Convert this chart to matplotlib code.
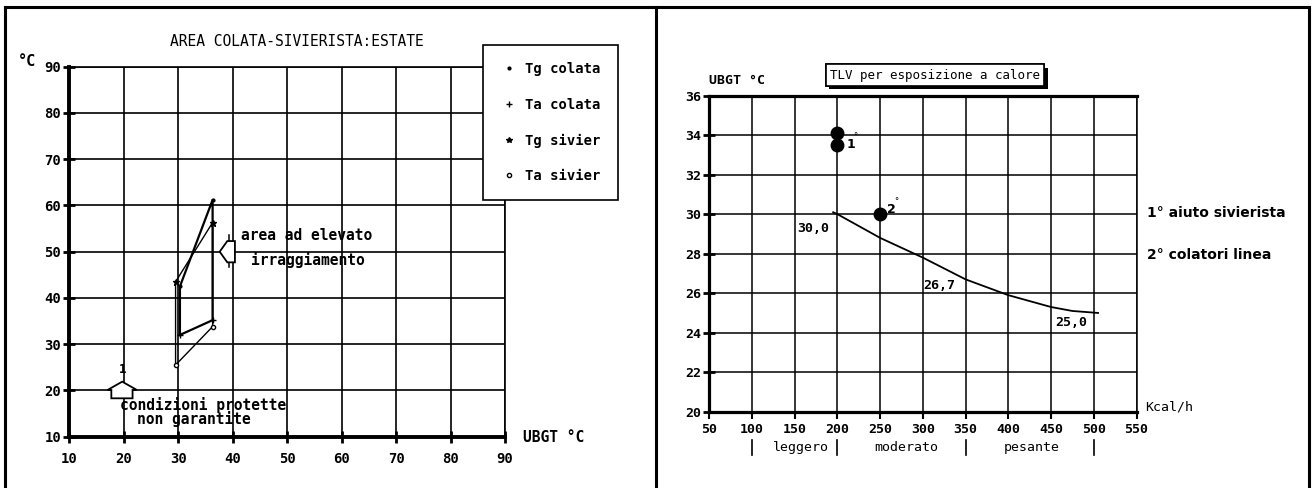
import matplotlib
matplotlib.use("Agg")
import matplotlib.pyplot as plt
from matplotlib.lines import Line2D
from matplotlib.patches import Polygon
import matplotlib.patheffects as pe

# ---------------- data: left panel ----------------
left_title = "AREA COLATA-SIVIERISTA:ESTATE"
left_xticks = [10, 20, 30, 40, 50, 60, 70, 80, 90]
left_yticks = [10, 20, 30, 40, 50, 60, 70, 80, 90]
legend_labels = ["Tg colata", "Ta colata", "Tg sivier", "Ta sivier"]

ubgt_colata = [30.3, 36.3]
tg_colata = [42.5, 61.2]
ta_colata = [32.0, 35.2]
ubgt_sivier = [29.5, 36.3]
tg_sivier = [43.5, 56.3]
ta_sivier = [25.5, 33.8]

# ---------------- data: right panel ----------------
right_title = "TLV per esposizione a calore"
right_xticks = [50, 100, 150, 200, 250, 300, 350, 400, 450, 500, 550]
right_yticks = [20, 22, 24, 26, 28, 30, 32, 34, 36]
tlv_kcal = [195, 200, 250, 300, 350, 400, 450, 475, 505]
tlv_wbgt = [30.1, 30.0, 28.8, 27.8, 26.7, 25.9, 25.3, 25.1, 25.0]
tlv_labels = ["30,0", "26,7", "25,0"]
tlv_label_pos = [(172, 29.3), (319, 26.4), (474, 24.5)]
siv_kcal = [200, 200]
siv_wbgt = [34.1, 33.5]
col_kcal = [250]
col_wbgt = [30.0]
work_classes = ["leggero", "moderato", "pesante"]
work_class_centers = [157, 281, 427]
work_class_bounds = [100, 200, 350, 500]

MONO = "DejaVu Sans Mono"
W, H = 1312, 488
fig = plt.figure(figsize=(W / 100, H / 100), dpi=100)
fig.patch.set_facecolor("white")


def fx(px):
    return px / W


def fy(py):
    return 1 - py / H


# outer table frame
for (x0, y0, x1, y1) in [(5, 7, 1309, 7), (5, 7, 5, 488), (656, 7, 656, 488), (1309, 7, 1309, 488)]:
    fig.add_artist(Line2D([fx(x0), fx(x1)], [fy(y0), fy(y1)], color="black", lw=2.2,
                          transform=fig.transFigure))

# ================= LEFT PANEL =================
axL = fig.add_axes([fx(69.4), fy(436.7), fx(505 - 69.4), (436.7 - 66.7) / H])
axL.set_xlim(10, 90)
axL.set_ylim(10, 90)
axL.set_xticks(left_xticks)
axL.set_yticks(left_yticks)
axL.set_xticklabels([str(v) for v in left_xticks], fontfamily=MONO,
                    fontweight="bold", fontsize=10)
axL.set_yticklabels([str(v) for v in left_yticks], fontfamily=MONO, fontweight="bold",
                    fontsize=10)
axL.grid(True, color="black", lw=1.2)
axL.set_axisbelow(True)
for s in ["left", "bottom"]:
    axL.spines[s].set_linewidth(2.8)
for s in ["top", "right"]:
    axL.spines[s].set_linewidth(1.2)
axL.tick_params(axis="y", direction="inout", length=8, width=2, pad=2)
axL.tick_params(axis="x", direction="inout", length=8, width=2, pad=7)

for ux, tg, ta, mk in [(ubgt_colata, tg_colata, ta_colata, 1.6),
                       (ubgt_sivier, tg_sivier, ta_sivier, 1.0)]:
    xs = [ux[0], ux[0], ux[1], ux[1], ux[0]]
    ys = [ta[0], tg[0], tg[1], ta[1], ta[0]]
    axL.plot(xs, ys, color="black", lw=mk, zorder=3)
axL.plot(ubgt_colata, tg_colata, ls="none", marker=".", color="black", ms=4, zorder=4)
axL.plot(ubgt_colata, ta_colata, ls="none", marker="+", color="black", ms=5, zorder=4)
axL.plot(ubgt_sivier, tg_sivier, ls="none", marker="*", color="black", ms=5, zorder=4)
axL.plot(ubgt_sivier, ta_sivier, ls="none", marker="o", mfc="white", color="black", ms=3, zorder=4)

# arrow "area ad elevato irraggiamento"
axL.add_patch(Polygon([(37.6, 50), (39.0, 52.3), (40.4, 52.3), (40.4, 47.7), (39.0, 47.7)],
                      closed=True, fill=True, fc="white", ec="black", lw=1.3, zorder=5))
axL.plot([39.3, 39.3], [52.3, 53.6], color="black", lw=1.1)
axL.plot([39.3, 39.3], [47.7, 46.6], color="black", lw=1.1)
axL.text(41.5, 53.6, "area ad elevato", fontfamily=MONO, fontweight="bold", fontsize=10.5,
         va="center", ha="left", zorder=6)
axL.text(43.3, 48.2, "irraggiamento", fontfamily=MONO, fontweight="bold", fontsize=10.5,
         va="center", ha="left", zorder=6)

# arrow "condizioni protette non garantite"
axL.add_patch(Polygon([(19.7, 21.9), (22.4, 20.1), (21.6, 20.1), (21.6, 18.3), (17.7, 18.3),
                       (17.7, 20.1), (17.0, 20.1)],
                      closed=True, fc="white", ec="black", lw=1.3, zorder=5))
axL.text(19.7, 24.6, "1", fontfamily=MONO, fontweight="bold", fontsize=9, ha="center",
         va="center")
axL.text(19.3, 16.9, "condizioni protette", fontfamily=MONO, fontweight="bold", fontsize=10.5,
         va="center", ha="left", zorder=6)
axL.text(22.4, 13.8, "non garantite", fontfamily=MONO, fontweight="bold", fontsize=10.5,
         va="center", ha="left", zorder=6)

fig.text(fx(297), fy(42), left_title, fontfamily=MONO, fontsize=10.5, ha="center", va="center")
fig.text(fx(18), fy(62), "°C", fontfamily=MONO, fontweight="bold", fontsize=11, ha="left",
         va="center")
fig.text(fx(523), fy(438), "UBGT °C", fontfamily=MONO, fontweight="bold", fontsize=10.5,
         ha="left", va="center")

handles = [
    Line2D([], [], ls="none", marker=".", color="black", ms=4),
    Line2D([], [], ls="none", marker="+", color="black", ms=4),
    Line2D([], [], ls="none", marker="*", color="black", ms=4),
    Line2D([], [], ls="none", marker="o", mfc="white", color="black", ms=3),
]
leg = axL.legend(handles, legend_labels, loc="upper left",
                 bbox_to_anchor=(fx(483), fy(45)), bbox_transform=fig.transFigure,
                 borderaxespad=0, frameon=True, fancybox=False, framealpha=1,
                 edgecolor="black", prop={"family": MONO, "weight": "bold", "size": 10},
                 labelspacing=1.55, borderpad=1.25, handlelength=1.2, handletextpad=0.6)
leg.get_frame().set_linewidth(1.2)
leg.set_zorder(10)

# ================= RIGHT PANEL =================
axR = fig.add_axes([fx(709.3), fy(411.7), fx(1136.5 - 709.3), 316 / H])
axR.set_xlim(50, 550)
axR.set_ylim(20, 36)
axR.set_xticks(right_xticks)
axR.set_yticks(right_yticks)
axR.set_xticklabels([str(v) for v in right_xticks], fontfamily=MONO, fontweight="bold",
                    fontsize=9.5)
axR.set_yticklabels([str(v) for v in right_yticks], fontfamily=MONO, fontweight="bold",
                    fontsize=9.5)
axR.grid(True, color="black", lw=1.1)
axR.set_axisbelow(True)
for s in ["left", "bottom", "top"]:
    axR.spines[s].set_linewidth(2.3)
axR.spines["right"].set_linewidth(1.1)
axR.tick_params(axis="y", direction="inout", length=8, width=2, pad=2)
axR.tick_params(axis="x", direction="out", length=5, width=1.5, pad=3)

axR.plot(tlv_kcal, tlv_wbgt, color="black", lw=1.3, zorder=3)
for lab, (lx, ly) in zip(tlv_labels, tlv_label_pos):
    axR.text(lx, ly, lab, fontfamily=MONO, fontweight="bold", fontsize=9.5, ha="center",
             va="center", zorder=4)
axR.plot(siv_kcal, siv_wbgt, ls="none", marker="o", color="black", ms=9, zorder=5)
axR.plot(col_kcal, col_wbgt, ls="none", marker="o", color="black", ms=9, zorder=5)
axR.text(211, 33.55, "1", fontfamily="DejaVu Sans", fontweight="bold", fontsize=9,
         ha="left", va="center")
axR.text(219, 33.95, "°", fontfamily="DejaVu Sans", fontsize=6, ha="left", va="center")
axR.text(258, 30.25, "2", fontfamily="DejaVu Sans", fontweight="bold", fontsize=9,
         ha="left", va="center")
axR.text(266, 30.65, "°", fontfamily="DejaVu Sans", fontsize=6, ha="left", va="center")

tb = fig.text(fx(935), fy(75), right_title, fontfamily=MONO, fontsize=9, ha="center",
              va="center",
              bbox=dict(boxstyle="square,pad=0.35", fc="white", ec="black", lw=1.2))
tb.get_bbox_patch().set_path_effects([pe.withSimplePatchShadow(offset=(2.5, -2.5),
                                                               shadow_rgbFace="black",
                                                               alpha=1), pe.Normal()])
fig.text(fx(709), fy(80), "UBGT °C", fontfamily=MONO, fontweight="bold", fontsize=9.5,
         ha="left", va="center")
fig.text(fx(1145), fy(407), "Kcal/h", fontfamily=MONO, fontsize=9.5, ha="left", va="center")
fig.text(fx(1147), fy(213), "1° aiuto sivierista", fontfamily="DejaVu Sans",
         fontweight="bold", fontsize=10, ha="left", va="center")
fig.text(fx(1147), fy(255), "2° colatori linea", fontfamily="DejaVu Sans",
         fontweight="bold", fontsize=10, ha="left", va="center")

trans = axR.get_xaxis_transform()
for b in work_class_bounds:
    axR.plot([b, b], [-0.089, -0.137], color="black", lw=1.2, transform=trans, clip_on=False)
for lab, cx in zip(work_classes, work_class_centers):
    axR.text(cx, -0.112, lab, fontfamily=MONO, fontsize=9.5, ha="center", va="center",
             transform=trans)

fig.savefig("out.png", dpi=100, facecolor="white")
